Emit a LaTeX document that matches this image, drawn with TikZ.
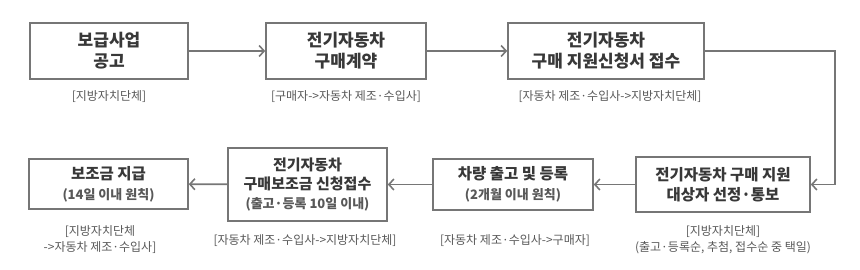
\documentclass[tikz,border=0pt]{standalone}
\usepackage{fontspec}
\setmainfont{Noto Sans CJK KR}
\usepackage{xcolor}
\usetikzlibrary{arrows.meta}

\definecolor{boxline}{HTML}{767676}
\definecolor{titletext}{HTML}{383838}
\definecolor{notetext}{HTML}{585858}

\newcommand{\subline}[1]{{\fontsize{13}{17}\selectfont\color{notetext}#1}}

\begin{document}
\begin{tikzpicture}[
    x=1pt, y=-1pt,
    stepbox/.style={draw=boxline, line width=1.6pt, align=center, inner sep=2pt,
        font=\fontsize{15.5}{20}\selectfont\bfseries, text=titletext},
    bigtitle/.style={font=\fontsize{17}{21}\selectfont\bfseries},
    notetext/.style={align=center, font=\fontsize{12}{16}\selectfont, text=notetext},
    grayarr/.style={-{Straight Barb[length=5pt, width=11pt, line width=1.6pt]},
        line width=1.8pt, boxline}
]
    \useasboundingbox (0,0) rectangle (860,270);

    % --- HÀNG TRÊN ---
    \node[stepbox, bigtitle, minimum width=158pt, minimum height=56pt] (b1) at (109, 51)
        {보급사업\\공고};
    \node[stepbox, bigtitle, minimum width=160pt, minimum height=56pt] (b2) at (346, 51)
        {전기자동차\\구매계약};
    \node[stepbox, bigtitle, minimum width=196pt, minimum height=56pt] (b3) at (606, 51)
        {전기자동차\\구매 지원신청서 접수};

    \node[notetext] (n1) at (109, 97) {[지방자치단체]};
    \node[notetext] (n2) at (346, 97) {[구매자->자동차 제조·수입사]};
    \node[notetext] (n3) at (610, 97) {[자동차 제조·수입사->지방자치단체]};

    % --- HÀNG DƯỚI ---
    \node[stepbox, minimum width=174pt, minimum height=55pt] (b4) at (723, 184.5)
        {전기자동차 구매 지원\\대상자 선정·통보};
    \node[stepbox, minimum width=160pt, minimum height=51pt] (b5) at (513, 184.5)
        {차량 출고 및 등록\\\subline{(2개월 이내 원칙)}};
    \node[stepbox, font=\fontsize{15}{19}\selectfont\bfseries, minimum width=159pt,
        minimum height=73pt] (b6) at (307.5, 184.5)
        {전기자동차\\구매보조금 신청접수\\\subline{(출고·등록 10일 이내)}};
    \node[stepbox, minimum width=159pt, minimum height=50pt] (b7) at (108.5, 184)
        {보조금 지급\\\subline{(14일 이내 원칙)}};

    \node[notetext] (n4) at (723, 240) {[지방자치단체]\\(출고·등록순, 추첨, 접수순 중 택일)};
    \node[notetext] (n5) at (515, 241) {[자동차 제조·수입사->구매자]};
    \node[notetext] (n6) at (305, 241) {[자동차 제조·수입사->지방자치단체]};
    \node[notetext] (n7) at (100, 240) {[지방자치단체\\->자동차 제조·수입사]};

    % --- MŨI TÊN ---
    \coordinate (turn) at (835, 51);
    \draw[grayarr] (b1) -- (b2);
    \draw[grayarr] (b2) -- (b3);
    \draw[grayarr] (b3.east) -- (turn) |- (b4.east);
    \draw[grayarr] (b4) -- (b5);
    \draw[grayarr] (b5) -- (b6);
    \draw[grayarr] (b6) -- (b7);
\end{tikzpicture}
\end{document}
